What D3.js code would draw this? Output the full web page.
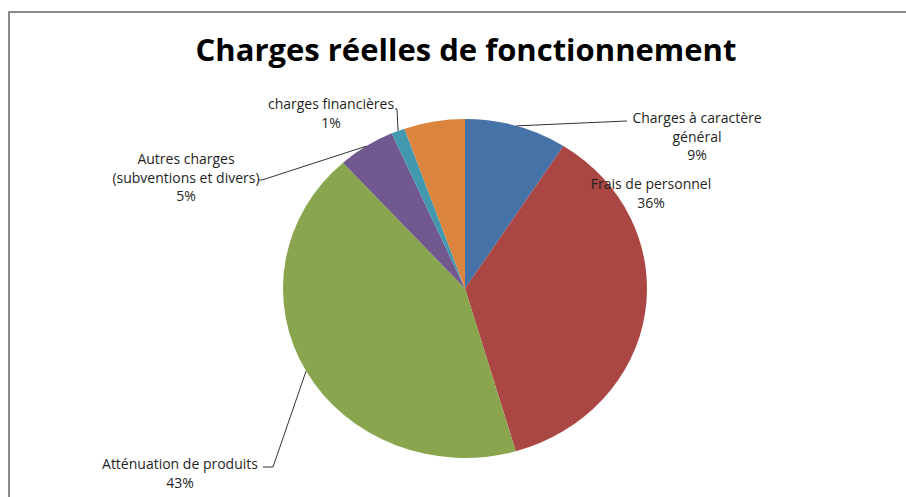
<!DOCTYPE html>
<html>
<head>
<meta charset="utf-8">
<script src="https://cdn.jsdelivr.net/npm/d3@7"></script>
<style>
  html, body { margin: 0; padding: 0; background: #fff; }
  svg { display: block; }
  .lbl { font-family: "Open Sans", "Noto Sans", sans-serif; font-size: 14px; fill: #1f1f1f; }
  .title { font-family: "Open Sans", "Noto Sans", sans-serif; font-size: 31px; font-weight: bold; fill: #000; }
</style>
</head>
<body>
<div id="chart"></div>
<script>
// categories, in order clockwise from 12 o'clock
const categories = [
    'Charges à caractère général',
    'Frais de personnel',
    'Atténuation de produits',
    'Autres charges (subventions et divers)',
    'charges financières',
    'Autres'
];
// percentage share of each category
const values = [9.1, 36.4, 42.8, 5.1, 1.2, 5.4];
// label text lines (empty = no label shown)
const labelLines = [
    ['Charges à caractère', 'général'],
    ['Frais de personnel'],
    ['Atténuation de produits'],
    ['Autres charges', '(subventions et divers)'],
    ['charges financières'],
    []
];
const colors = ['#4572A7', '#AA4643', '#89A54E', '#71588F', '#4198AF', '#DB843D'];

const width = 906, height = 497;
const cx = 465, cy = 288.5;
const rx = 182, ry = 169.5;

// label placement: centre x, first baseline, leader path (after arc point)
const labelLayout = [
    { x: 697, y: 123, leader: [[627, 121]] },
    { x: 651, y: 189, leader: null },
    { x: 180, y: 469, leader: [[273, 467], [263, 467]] },
    { x: 186, y: 164, leader: [[262, 180], [258, 180]] },
    { x: 331, y: 109, leader: [[397, 109], [395, 109]] },
    null
];
const lineGap = 18.5;

const data = categories.map((c, i) => ({ name: c, value: values[i], color: colors[i], lines: labelLines[i], layout: labelLayout[i] }));

const svg = d3.select('#chart')
    .append('svg')
    .attr('width', width)
    .attr('height', height);

// frame
svg.append('rect')
    .attr('x', 9)
    .attr('y', 12)
    .attr('width', width + 20)
    .attr('height', height + 20)
    .attr('fill', 'none')
    .attr('stroke', '#8a8a8a')
    .attr('stroke-width', 2);

svg.append('text')
    .attr('class', 'title')
    .attr('x', 466)
    .attr('y', 61)
    .attr('text-anchor', 'middle')
    .text('Charges réelles de fonctionnement');

const pie = d3.pie().sort(null).value(d => d.value);
const arcs = pie(data);
const total = d3.sum(values);

const arc = d3.arc().innerRadius(0).outerRadius(ry);

// pie is slightly wider than tall in the reference
svg.append('g')
    .attr('transform', `translate(${cx},${cy}) scale(${rx / ry},1)`)
    .selectAll('path')
    .data(arcs)
    .enter()
    .append('path')
    .attr('d', arc)
    .attr('fill', d => d.data.color);

// point on the ellipse edge at the middle of a slice
function edgePoint(d) {
    const a = (d.startAngle + d.endAngle) / 2;
    return [cx + rx * Math.sin(a), cy - ry * Math.cos(a)];
}

const labels = svg.append('g');

arcs.forEach(d => {
    const lay = d.data.layout;
    if (!lay) return;

    if (lay.leader) {
        const pts = [edgePoint(d)].concat(lay.leader);
        labels.append('path')
            .attr('d', d3.line()(pts))
            .attr('fill', 'none')
            .attr('stroke', '#333')
            .attr('stroke-width', 1);
    }

    const pct = Math.round(d.data.value / total * 100) + '%';
    const lines = d.data.lines.concat([pct]);
    const t = labels.append('text')
        .attr('class', 'lbl')
        .attr('text-anchor', 'middle');
    lines.forEach((s, i) => {
        t.append('tspan')
            .attr('x', lay.x)
            .attr('y', lay.y + i * lineGap)
            .text(s);
    });
});
</script>
</body>
</html>
